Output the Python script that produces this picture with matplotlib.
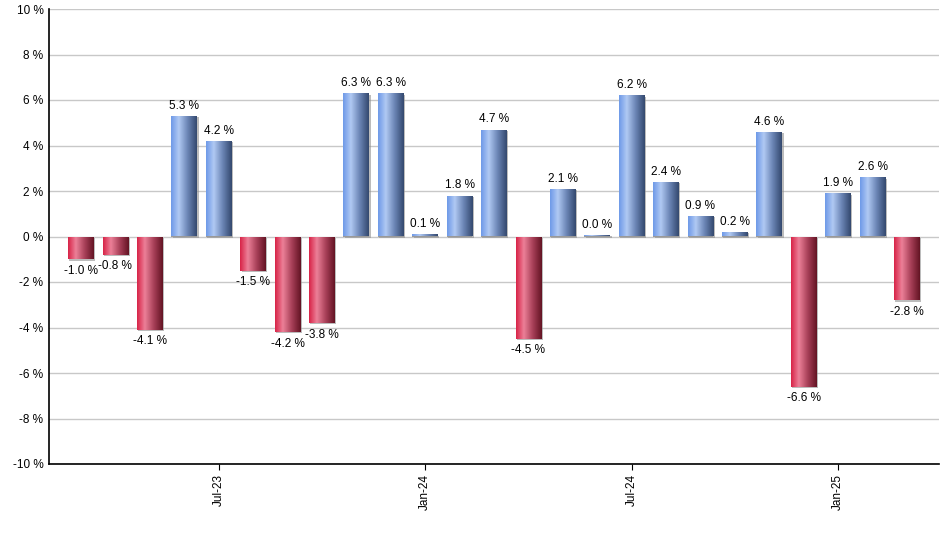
import numpy as np
import matplotlib
matplotlib.use("Agg")
import matplotlib.pyplot as plt
from matplotlib.colors import LinearSegmentedColormap
from matplotlib import patheffects as pe

# monthly returns, Mar-23 .. Mar-25
months = ["Mar-23", "Apr-23", "May-23", "Jun-23", "Jul-23", "Aug-23", "Sep-23", "Oct-23",
          "Nov-23", "Dec-23", "Jan-24", "Feb-24", "Mar-24", "Apr-24", "May-24", "Jun-24",
          "Jul-24", "Aug-24", "Sep-24", "Oct-24", "Nov-24", "Dec-24", "Jan-25", "Feb-25",
          "Mar-25"]
values = [-1.0, -0.8, -4.1, 5.3, 4.2, -1.5, -4.2, -3.8, 6.3, 6.3, 0.1, 1.8, 4.7, -4.5,
          2.1, 0.0, 6.2, 2.4, 0.9, 0.2, 4.6, -6.6, 1.9, 2.6, -2.8]
tick_months = ["Jul-23", "Jan-24", "Jul-24", "Jan-25"]

plt.rcParams['font.family'] = ['Liberation Sans', 'DejaVu Sans']

blue_cm = LinearSegmentedColormap.from_list(
    "b", [(0, "#6f9ae8"), (0.3, "#b0c9f3"), (0.65, "#6a84b4"), (1, "#34496f")])
red_cm = LinearSegmentedColormap.from_list(
    "r", [(0, "#d82448"), (0.3, "#ec8098"), (0.65, "#a84058"), (1, "#641424")])

fig = plt.figure(figsize=(9.4, 5.5), dpi=100)
ax = fig.add_axes([49 / 940, 1 - 464 / 550, 1 - 49 / 940 - 1 / 940, (464 - 9) / 550])

x = np.arange(len(values))
width = 0.75
# tiny values still get a visible sliver, like the original
heights = [v if abs(v) >= 0.08 else 0.08 for v in values]
bars = ax.bar(x, heights, width=width, color="#999999", zorder=2,
              path_effects=[pe.SimplePatchShadow(offset=(1, -1), shadow_rgbFace="#909090", alpha=0.6),
                            pe.Normal()])

grad = np.linspace(0, 1, 64).reshape(1, -1)
for b, v, h in zip(bars, values, heights):
    x0 = b.get_x()
    cm = blue_cm if v >= 0 else red_cm
    lo, hi = (0, h) if h >= 0 else (h, 0)
    im = ax.imshow(grad, cmap=cm, extent=[x0, x0 + width, lo, hi], aspect="auto",
                   zorder=3, interpolation="bilinear")
    im.set_clip_path(b)
    if v >= 0:
        ax.annotate(f"{v:.1f} %", (x0 + width / 2, h), xytext=(0, 3),
                    textcoords="offset points", ha="center", va="bottom", fontsize=8.5, zorder=4)
    else:
        ax.annotate(f"{v:.1f} %", (x0 + width / 2, h), xytext=(0, -4),
                    textcoords="offset points", ha="center", va="top", fontsize=8.5, zorder=4)

ax.set_xlim(-0.93, len(values) - 1 + 0.93)
ax.set_ylim(-10, 10)
ax.set_yticks(np.arange(-10, 11, 2))
ax.set_yticklabels([f"{t} %" for t in range(-10, 11, 2)], fontsize=8.5)
ax.set_xticks([months.index(m) for m in tick_months])
ax.set_xticklabels(tick_months, rotation=90, fontsize=8.5)
ax.tick_params(axis="y", length=0, pad=4)
ax.tick_params(axis="x", length=4, pad=3)
ax.yaxis.grid(True, color="#c8c8c8", linewidth=1)
ax.set_axisbelow(True)
for s in ["top", "right"]:
    ax.spines[s].set_visible(False)
ax.spines["left"].set_linewidth(1.2)
ax.spines["bottom"].set_linewidth(1.2)

fig.savefig("out.png", dpi=100)
